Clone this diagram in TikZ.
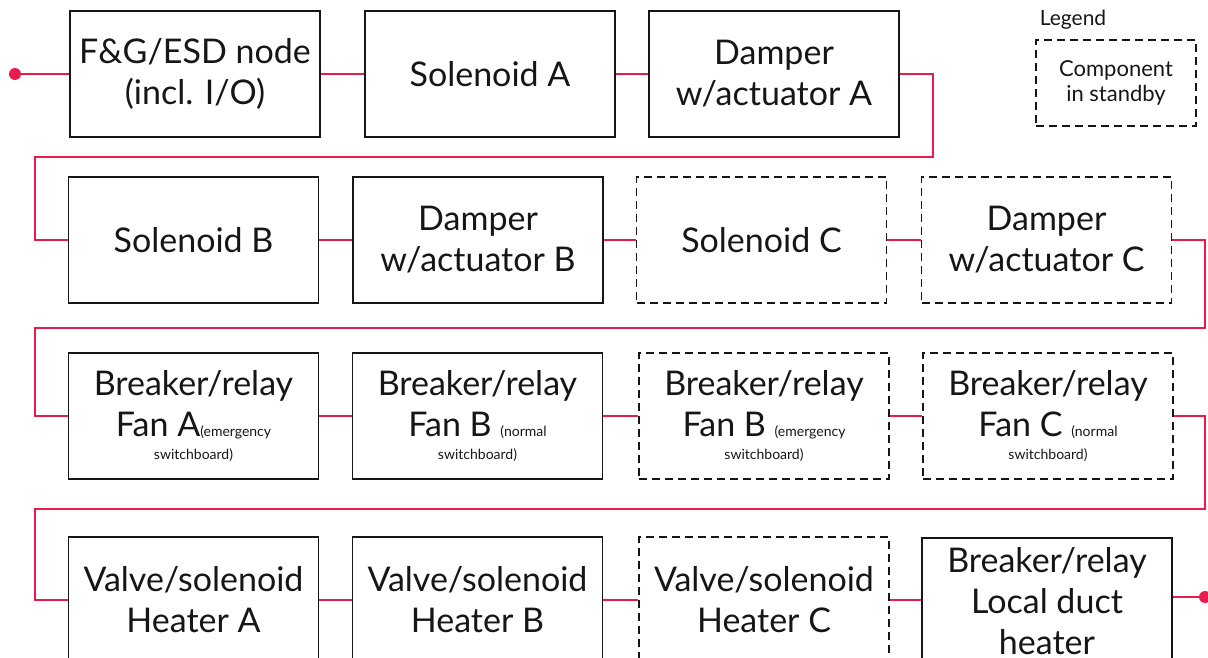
\documentclass[tikz,border=0pt]{standalone}
\usepackage{fontspec}
\setmainfont{Lato}
\usetikzlibrary{positioning}
\definecolor{wirered}{RGB}{232,28,76}
\definecolor{inkblack}{RGB}{22,22,22}

\tikzset{
  unit/.style={draw=inkblack, text=inkblack, line width=1.7pt, minimum width=250pt,
    minimum height=126pt, align=center, inner sep=0pt, font=\fontsize{34}{41}\selectfont},
  standby/.style={unit, line width=1.9pt, dash pattern=on 8pt off 5pt},
  wire/.style={wirered, line width=1.1pt},
  endpoint/.style={circle, fill=wirered, inner sep=0pt, minimum size=12pt},
}
\newcommand{\swnote}[1]{{\fontsize{14}{23}\selectfont #1}}

\begin{document}
\begin{tikzpicture}[x=1pt, y=-1pt]
    \useasboundingbox (0,0) rectangle (1208,658);
    \clip (0,0) rectangle (1208,658);

    % row 1
    \node[endpoint] (src) at (15,74) {};
    \node[unit] (fg)   at (195,74)  {F\&G/ESD node\\(incl. I/O)};
    \node[unit] (solA) at (490,74)  {Solenoid A};
    \node[unit] (damA) at (774,74)  {Damper\\w/actuator A};

    % legend
    \node[text=inkblack, font=\fontsize{21}{24}\selectfont] (legtitle) at (1073,20) {Legend};
    \node[standby, minimum width=160pt, minimum height=86pt, line width=1.7pt,
          font=\fontsize{22}{25}\selectfont] (legbox) at (1116,83) {Component\\in standby};

    % row 2
    \node[unit]    (solB) at (193.5,240)  {Solenoid B};
    \node[unit]    (damB) at (478,240)    {Damper\\w/actuator B};
    \node[standby] (solC) at (761.5,240)  {Solenoid C};
    \node[standby] (damC) at (1046.5,240) {Damper\\w/actuator C};

    % row 3
    \node[unit]    (brA)  at (193.5,416) {Breaker/relay\\Fan A\swnote{(emergency}\\[-18pt]\swnote{switchboard)}};
    \node[unit]    (brB)  at (477.5,416) {Breaker/relay\\Fan B \swnote{(normal}\\[-18pt]\swnote{switchboard)}};
    \node[standby] (brBe) at (764,416)   {Breaker/relay\\Fan B \swnote{(emergency}\\[-18pt]\swnote{switchboard)}};
    \node[standby] (brC)  at (1048,416)  {Breaker/relay\\Fan C \swnote{(normal}\\[-18pt]\swnote{switchboard)}};

    % row 4
    \node[unit]    (valA) at (193.5,600) {Valve/solenoid\\Heater A};
    \node[unit]    (valB) at (477.5,600) {Valve/solenoid\\Heater B};
    \node[standby] (valC) at (764,600)   {Valve/solenoid\\Heater C};
    \node[unit]    (brL)  at (1047,601)  {Breaker/relay\\Local duct\\heater};
    \node[endpoint] (sink) at (1205,597) {};

    % return lanes
    \coordinate (r1) at (933,157);  \coordinate (l1) at (35,157);
    \coordinate (r2) at (1205,328); \coordinate (l2) at (35,328);
    \coordinate (r3) at (1205,509); \coordinate (l3) at (35,509);

    % wiring
    \draw[wire] (src) -- (fg.west);
    \draw[wire] (fg.east) -- (solA.west);
    \draw[wire] (solA.east) -- (damA.west);
    \draw[wire] (damA.east) -| (r1) -- (l1) |- (solB.west);
    \draw[wire] (solB.east) -- (damB.west);
    \draw[wire] (damB.east) -- (solC.west);
    \draw[wire] (solC.east) -- (damC.west);
    \draw[wire] (damC.east) -| (r2) -- (l2) |- (brA.west);
    \draw[wire] (brA.east) -- (brB.west);
    \draw[wire] (brB.east) -- (brBe.west);
    \draw[wire] (brBe.east) -- (brC.west);
    \draw[wire] (brC.east) -| (r3) -- (l3) |- (valA.west);
    \draw[wire] (valA.east) -- (valB.west);
    \draw[wire] (valB.east) -- (valC.west);
    \draw[wire] (valC.east) -- (brL.west |- valC.east);
    \draw[wire] (brL.east |- sink) -- (sink);
\end{tikzpicture}
\end{document}
